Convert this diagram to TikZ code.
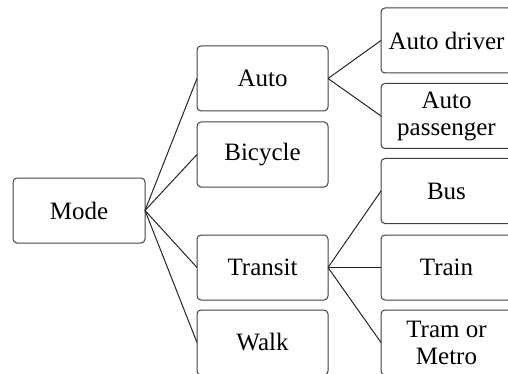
\documentclass[tikz,border=0pt]{standalone}
\usepackage{fontspec}
\setmainfont{Liberation Serif}
\begin{document}
\begin{tikzpicture}[x=1pt,y=-1pt,
  box/.style={draw=black!75, line width=1pt, rounded corners=4pt,
    minimum width=131pt, minimum height=65pt, inner sep=0pt, outer sep=0pt,
    align=center, font=\fontsize{25}{27}\selectfont},
  link/.style={draw=black!85, line width=1pt}]
\useasboundingbox (0,0) rectangle (508,374);
\clip (0,0) rectangle (508,374);
% root
\node[box, minimum width=132pt] (mode) at (79,210.5) {Mode};
% main modes
\node[box] (auto)    at (262.5,78.5)  {Auto};
\node[box] (bicycle) at (262.5,154.5) {Bicycle};
\node[box] (transit) at (262.5,267.5) {Transit};
\node[box] (walk)    at (262.5,342.5) {Walk};
% sub-modes
\node[box] (driver)    at (446.5,40.5)  {Auto driver};
\node[box] (passenger) at (446.5,116)   {Auto\\passenger};
\node[box] (bus)       at (446.5,191)   {Bus};
\node[box] (train)     at (446.5,267.5) {Train};
\node[box] (tram)      at (446.5,342.5) {Tram or\\Metro};
% connectors
\foreach \t in {auto,bicycle,transit,walk}
  \draw[link] (mode.east) -- (\t.west);
\foreach \t in {driver,passenger}
  \draw[link] (auto.east) -- (\t.west);
\foreach \t in {bus,train,tram}
  \draw[link] (transit.east) -- (\t.west);
\end{tikzpicture}
\end{document}
